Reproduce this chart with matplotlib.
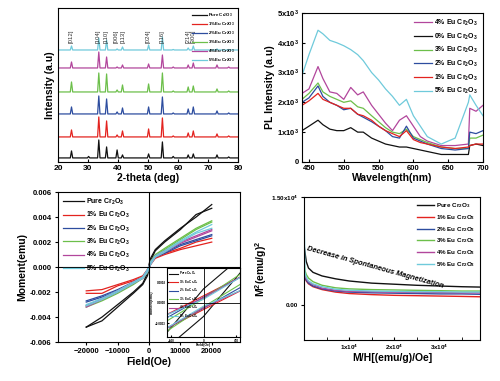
import numpy as np
import matplotlib.pyplot as plt
from matplotlib.ticker import MultipleLocator, FixedLocator, FuncFormatter

plt.rcParams['font.family'] = ['Liberation Sans', 'DejaVu Sans']
plt.rcParams['font.weight'] = 'bold'
plt.rcParams['axes.labelweight'] = 'bold'
plt.rcParams['mathtext.default'] = 'regular'

colors = ['#111111', '#e3231f', '#2d4d9f', '#6cbf4a', '#b2469c', '#6fcadb']
mh_labels = ['Pure Cr$_2$O$_3$', '1% Eu Cr$_2$O$_3$', '2% Eu Cr$_2$O$_3$',
             '3% Eu Cr$_2$O$_3$', '4% Eu Cr$_2$O$_3$', '5% Eu Cr$_2$O$_3$']
xrd_labels = ['Pure Cr$_2$O$_3$', '1%Eu Cr$_2$O$_3$', '2%Eu Cr$_2$O$_3$',
              '3%Eu Cr$_2$O$_3$', '4%Eu Cr$_2$O$_3$', '5%Eu Cr$_2$O$_3$']

# ---------------- XRD data ----------------
xrd_peaks = [24.5, 30.2, 33.6, 36.2, 39.7, 41.5, 50.2, 54.8, 58.4, 63.4, 65.1, 73.0, 76.9]
xrd_pure = [7, 1.5, 18, 11, 8, 3, 4, 16, 1.5, 3, 4, 3, 1]
xrd_1 = [7, 0, 20, 16, 2, 6, 8, 19, 1, 4, 6, 3, 1]
xrd_2 = [7, 0, 18, 15, 2, 6, 7, 17, 1, 5, 7, 3, 1]
xrd_3 = [10, 0, 19, 18, 2, 7, 8, 19, 1, 5, 6, 3, 1]
xrd_4 = [6, 0, 16, 11, 1, 3, 4, 13, 1, 3, 5, 3, 1]
xrd_5 = [4, 0, 12, 10, 1, 3, 5, 13, 0.5, 2, 4, 1, 0.5]
xrd_series = [xrd_pure, xrd_1, xrd_2, xrd_3, xrd_4, xrd_5]
xrd_offsets = [4, 25, 48, 70, 94, 112]
hkl_labels = ['[012]', '[104]', '[110]', '[006]', '[113]', '[024]', '[116]', '[214]', '[300]']
hkl_pos = [24.5, 33.5, 36.2, 39.4, 41.6, 50.2, 54.8, 63.3, 65.2]

# ---------------- PL data ----------------
wl = [440, 450, 463, 470, 480, 490, 500, 510, 520, 528, 540, 550, 560, 570, 580, 590, 600,
      610, 620, 640, 660, 679, 681, 690, 700]
pl_4 = [2300, 2450, 3200, 2800, 2350, 2300, 2100, 2500, 2250, 2350, 1900, 1600, 1300, 1050, 1400, 1550, 1200,
        850, 700, 550, 550, 600, 1800, 1700, 1900]
pl_0 = [1050, 1200, 1400, 1250, 1100, 1050, 1050, 1150, 1000, 1000, 800, 700, 600, 550, 500, 500, 450,
        400, 350, 250, 250, 250, 550, 600, 550]
pl_3 = [2100, 2300, 2650, 2350, 2200, 2100, 2000, 2050, 1850, 1800, 1550, 1350, 1150, 1000, 950, 1100, 850,
        750, 650, 500, 450, 450, 800, 800, 900]
pl_2 = [2000, 2150, 2550, 2200, 2000, 1900, 1750, 1800, 1600, 1500, 1350, 1200, 1050, 850, 800, 1200, 800,
        700, 600, 450, 400, 450, 1000, 950, 1050]
pl_1 = [1900, 2050, 2300, 2100, 2000, 1900, 1800, 1800, 1600, 1550, 1400, 1200, 1050, 950, 850, 1050, 750,
        650, 600, 500, 450, 500, 550, 600, 600]
pl_5 = [2900, 3600, 4420, 4300, 4080, 4000, 3900, 3770, 3600, 3400, 3000, 2750, 2450, 2200, 1900, 2100, 1550,
        1200, 850, 600, 800, 2000, 2250, 1900, 1550]
pl_series = [pl_4, pl_0, pl_3, pl_2, pl_1, pl_5]
pl_colors = [colors[4], colors[0], colors[3], colors[2], colors[1], colors[5]]
pl_labels = ['4% Eu Cr$_2$O$_3$', '0% Eu Cr$_2$O$_3$', '3% Eu Cr$_2$O$_3$',
             '2% Eu Cr$_2$O$_3$', '1% Eu Cr$_2$O$_3$', '5% Eu Cr$_2$O$_3$']

# ---------------- M-H data ----------------
field = [-20000, -15000, -10000, -5000, -2000, -500, 0, 500, 2000, 5000, 10000, 15000, 20000]
mh_upper = [
    [-0.0048, -0.0040, -0.0030, -0.0020, -0.0013, -0.0005, 0.0002, 0.0007, 0.0014, 0.0021, 0.0031, 0.0040, 0.0050],
    [-0.0019, -0.0018, -0.0014, -0.0010, -0.0007, -0.0002, 0.0001, 0.0004, 0.0008, 0.0011, 0.0015, 0.0020, 0.0023],
    [-0.0027, -0.0023, -0.0018, -0.0012, -0.0008, -0.00025, 0.00008, 0.0004, 0.0009, 0.0012, 0.0018, 0.0022, 0.0026],
    [-0.0031, -0.0026, -0.0020, -0.0013, -0.0008, -0.0003, 0.00006, 0.00045, 0.0010, 0.0015, 0.0023, 0.0031, 0.0037],
    [-0.0031, -0.0025, -0.0019, -0.0012, -0.0008, -0.0002, 0.00007, 0.0004, 0.0009, 0.0013, 0.0020, 0.0025, 0.0030],
    [-0.0030, -0.0025, -0.0019, -0.0012, -0.0008, -0.0002, 0.00005, 0.0004, 0.0009, 0.0013, 0.0021, 0.0028, 0.0034],
]
mh_lower = [
    [-0.0048, -0.0043, -0.0032, -0.0021, -0.0014, -0.0007, -0.0002, 0.0005, 0.0013, 0.0020, 0.0030, 0.0042, 0.0047],
    [-0.0021, -0.0021, -0.0015, -0.0011, -0.0008, -0.0004, -0.0001, 0.0002, 0.0007, 0.0010, 0.0014, 0.0017, 0.0020],
    [-0.0028, -0.0024, -0.0019, -0.0013, -0.0009, -0.0004, -0.00008, 0.00025, 0.0008, 0.0011, 0.0017, 0.0021, 0.0025],
    [-0.0032, -0.0027, -0.0021, -0.0014, -0.0009, -0.00045, -0.00006, 0.0003, 0.0009, 0.0014, 0.0022, 0.0030, 0.0036],
    [-0.0032, -0.0026, -0.0020, -0.0013, -0.0009, -0.0004, -0.00007, 0.0002, 0.0008, 0.0012, 0.0019, 0.0024, 0.0029],
    [-0.0031, -0.0026, -0.0020, -0.0013, -0.0009, -0.0004, -0.00005, 0.0002, 0.0008, 0.0012, 0.0020, 0.0027, 0.0031],
]

# ---------------- Arrott plot data ----------------
mh_x = [0.0, 0.02, 0.05, 0.1, 0.2, 0.4, 0.7, 1.0, 1.5, 2.0, 2.5, 3.0, 3.5, 3.9]
arr_pure = [8400, 7400, 6000, 5100, 4500, 4000, 3600, 3300, 3000, 2850, 2700, 2600, 2500, 2450]
arr_1 = [4200, 3800, 3300, 2900, 2500, 2100, 1750, 1550, 1400, 1300, 1250, 1200, 1150, 1100]
arr_2 = [4300, 3900, 3400, 3000, 2600, 2200, 1900, 1750, 1650, 1600, 1550, 1500, 1500, 1450]
arr_3 = [6000, 4800, 4200, 3700, 3200, 2700, 2350, 2200, 2100, 2050, 2000, 1950, 1900, 1900]
arr_4 = [4500, 4100, 3600, 3200, 2800, 2300, 2000, 1850, 1800, 1750, 1700, 1700, 1650, 1650]
arr_5 = [15000, 4500, 3800, 3300, 2900, 2500, 2150, 2000, 1900, 1850, 1800, 1800, 1750, 1750]
arr_series = [arr_pure, arr_1, arr_2, arr_3, arr_4, arr_5]

fig = plt.figure(figsize=(5.0, 3.81), dpi=100)

# ======== Panel 1: XRD ========
ax1 = fig.add_axes([0.116, 0.575, 0.36, 0.404])
w = 0.4
for ser, off, c, lab in zip(xrd_series, xrd_offsets, colors, xrd_labels):
    xs = [20.0]
    ys = [off]
    for p, h in zip(xrd_peaks, ser):
        xs += [p - w, p, p + w]
        ys += [off, off + h, off]
    xs.append(80.0)
    ys.append(off)
    ax1.plot(xs, ys, color=c, lw=0.9, label=lab)
for t, p in zip(hkl_labels, hkl_pos):
    ax1.text(p, 119, t, rotation=90, fontsize=4.3, ha='center', va='bottom', color='#333333', fontweight='normal')
ax1.set_xlim(20, 80)
ax1.set_ylim(0, 154)
ax1.set_yticks([])
ax1.xaxis.set_major_locator(MultipleLocator(10))
ax1.tick_params(axis='x', direction='in', labelsize=6, length=2.5, pad=2)
ax1.set_xlabel('2-theta (deg)', fontsize=7.5, labelpad=1)
ax1.set_ylabel('Intensity (a.u)', fontsize=7.5, labelpad=2)
leg1 = ax1.legend(loc='upper right', fontsize=3.2, frameon=False, handlelength=3.2,
                  labelspacing=0.35, borderaxespad=0.3, handletextpad=0.3)

# ======== Panel 2: PL ========
ax2 = fig.add_axes([0.604, 0.575, 0.362, 0.391])
for ser, c, lab in zip(pl_series, pl_colors, pl_labels):
    ax2.plot(wl, ser, color=c, lw=0.9, label=lab)
ax2.set_xlim(440, 700)
ax2.set_ylim(0, 5000)
ax2.xaxis.set_major_locator(MultipleLocator(50))
ax2.yaxis.set_major_locator(MultipleLocator(1000))

def pl_fmt(v, pos):
    if v == 0:
        return '0'
    return '%dx10$^3$' % int(round(v / 1000))
ax2.yaxis.set_major_formatter(FuncFormatter(pl_fmt))
ax2.tick_params(direction='in', labelsize=5.5, length=2.5, pad=2)
ax2.set_xlabel('Wavelength(nm)', fontsize=7.5, labelpad=1)
ax2.set_ylabel('PL Intensity (a.u)', fontsize=7.5, labelpad=2)
ax2.legend(loc='upper right', fontsize=5, frameon=False, handlelength=2.5,
           labelspacing=0.5, borderaxespad=0.3, handletextpad=0.4)

# ======== Panel 3: M-H ========
ax3 = fig.add_axes([0.116, 0.102, 0.364, 0.394])
for up, lo, c, lab in zip(mh_upper, mh_lower, colors, mh_labels):
    ax3.plot(field, up, color=c, lw=0.9, label=lab)
    ax3.plot(field, lo, color=c, lw=0.9)
ax3.axhline(0, color='black', lw=0.8)
ax3.axvline(0, color='black', lw=0.8)
ax3.set_xlim(-29000, 29000)
ax3.set_ylim(-0.006, 0.006)
ax3.set_xticks([-20000, -10000, 0, 10000, 20000])
ax3.set_yticks([-0.006, -0.004, -0.002, 0.0, 0.002, 0.004, 0.006])
ax3.yaxis.set_major_formatter(FuncFormatter(lambda v, p: '%.3f' % v))
ax3.tick_params(direction='out', labelsize=5.5, length=2.5, pad=2)
ax3.set_xlabel('Field(Oe)', fontsize=7.5, labelpad=1)
ax3.set_ylabel('Moment(emu)', fontsize=7.5, labelpad=2)
ax3.legend(loc='upper left', fontsize=5, frameon=False, handlelength=3.0,
           labelspacing=0.45, borderaxespad=0.3, handletextpad=0.4)

# inset
axi = fig.add_axes([0.334, 0.115, 0.146, 0.181])
for up, lo, c, lab in zip(mh_upper, mh_lower, colors, mh_labels):
    axi.plot(field, up, color=c, lw=0.8, label=lab)
    axi.plot(field, lo, color=c, lw=0.8)
axi.axhline(0, color='black', lw=0.6)
axi.axvline(0, color='black', lw=0.6)
axi.set_xlim(-450, 450)
axi.set_ylim(-0.0005, 0.0005)
axi.set_xticks([-400, 0, 400])
axi.set_yticks([-0.0003, 0, 0.0003])
axi.tick_params(direction='in', labelsize=2.2, length=1.5, pad=1)
axi.set_xlabel('Field(Oe)', fontsize=2.5, labelpad=0.5)
axi.set_ylabel('Moment(emu)', fontsize=2.5, labelpad=0.5)
axi.legend(loc='upper left', fontsize=2.2, frameon=False, handlelength=3.0,
           labelspacing=0.3, borderaxespad=0.1, handletextpad=0.3)

# ======== Panel 4: Arrott ========
ax4 = fig.add_axes([0.608, 0.108, 0.352, 0.375])
for ser, c, lab in zip(arr_series, colors, mh_labels):
    ax4.plot(mh_x, ser, color=c, lw=1.0, label=lab)
ax4.set_xlim(0, 3.9)
ax4.set_ylim(-4900, 15000)
ax4.set_xticks([1, 2, 3])
ax4.xaxis.set_minor_locator(MultipleLocator(0.5))
ax4.set_xticklabels(['1x10$^4$', '2x10$^4$', '3x10$^4$'])
ax4.set_yticks([0, 15000])
ax4.set_yticklabels(['0.00', '1.50x10$^4$'])
ax4.tick_params(which='both', direction='in', labelsize=4.5, length=2.5, pad=2)
ax4.tick_params(axis='y', direction='out')
ax4.set_xlabel('M/H[(emu/g)/Oe]', fontsize=7.5, labelpad=1)
ax4.set_ylabel('M$^2$(emu/g)$^2$', fontsize=7.5, labelpad=1)
ax4.legend(loc='upper right', fontsize=4.5, frameon=False, handlelength=2.8,
           labelspacing=0.45, borderaxespad=0.3, handletextpad=0.3)
ax4.text(0.08, 8300, 'Decrease in Spontaneous Magnetization', rotation=-15.5,
         fontsize=5.3, style='italic', fontweight='bold', ha='left', va='top',
         rotation_mode='anchor')

fig.savefig('out.png', dpi=100)
